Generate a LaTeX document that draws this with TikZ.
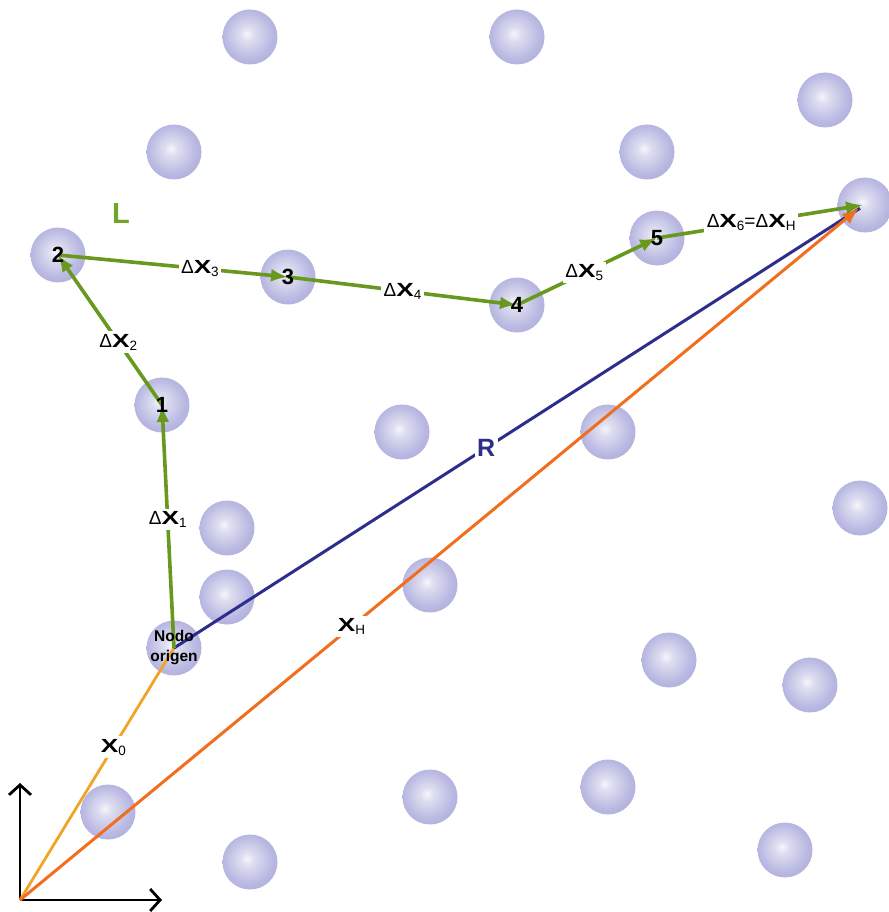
\documentclass[tikz,border=0pt]{standalone}
\usepackage{fontspec}
\setmainfont{Liberation Sans}
\usepackage{graphicx}
\usetikzlibrary{arrows.meta,calc}
\definecolor{gr}{RGB}{104,152,30}
\definecolor{lgr}{RGB}{112,165,40}
\definecolor{rblue}{RGB}{45,45,140}
\definecolor{xor}{RGB}{240,110,30}
\definecolor{xzero}{RGB}{240,165,40}
\definecolor{sph0}{RGB}{246,246,252}
\definecolor{sph1}{RGB}{222,222,240}
\definecolor{sphA}{RGB}{184,184,226}
\definecolor{sphB}{RGB}{158,158,208}
\definecolor{sphC}{RGB}{140,140,186}
\pgfdeclareradialshading{sphereshade}{\pgfpoint{-3bp}{3bp}}{color(0bp)=(sph0); color(6bp)=(sph1); color(22bp)=(sphA); color(42bp)=(sphB); color(50bp)=(sphC)}
\newcommand\wideX{\scalebox{1.38}[1]{\textbf{X}}}
\newcommand\dx[1]{{\fontsize{19}{21}\selectfont Δ\wideX\raisebox{-0.3ex}{\fontsize{13.5}{14}\selectfont #1}}}
\newcommand\xv[1]{{\fontsize{19}{21}\selectfont \wideX\raisebox{-0.3ex}{\fontsize{13.5}{14}\selectfont #1}}}
\tikzset{
  sphere/.style={circle, minimum size=55pt, inner sep=0pt, shading=sphereshade},
  num/.style={font=\fontsize{22}{24}\selectfont\bfseries, inner sep=0pt},
  garrow/.style={draw=gr, line width=3.6pt, -{Latex[length=17pt,width=13pt]}},
  lbl/.style={fill=white, inner sep=2.5pt, text=black},
  axis/.style={draw=black, line width=2.8pt, -{Straight Barb[length=10pt,width=22pt,line width=2.8pt]}},
}
\begin{document}
\begin{tikzpicture}[x=1pt,y=-1pt]
\useasboundingbox (0,0) rectangle (888,912);
% spheres
\node[sphere] (s1) at (250,37) {};
\node[sphere] (s2) at (517,37) {};
\node[sphere] (s3) at (825,100) {};
\node[sphere] (s4) at (174,152) {};
\node[sphere] (s5) at (647,152) {};
\node[sphere] (sH) at (865,205) {};
\node[sphere] (sN2) at (58,255) {};
\node[sphere] (sN3) at (288,277) {};
\node[sphere] (sN4) at (517,305) {};
\node[sphere] (sN5) at (657,238) {};
\node[sphere] (sN1) at (162,405) {};
\node[sphere] (s12) at (402,432) {};
\node[sphere] (s13) at (608,432) {};
\node[sphere] (s14) at (860,508) {};
\node[sphere] (s15) at (227,528) {};
\node[sphere] (s16) at (227,597) {};
\node[sphere] (s17) at (430,585) {};
\node[sphere] (sO) at (174,648) {};
\node[sphere] (s19) at (669,660) {};
\node[sphere] (s20) at (810,685) {};
\node[sphere] (s21) at (108,812) {};
\node[sphere] (s22) at (430,797) {};
\node[sphere] (s23) at (608,787) {};
\node[sphere] (s24) at (250,862) {};
\node[sphere] (s25) at (785,850) {};
% axes
\coordinate (O) at (20,900);
\coordinate (yend) at (20,783);
\coordinate (xend) at (162,900);
\draw[axis] (O) -- (yend);
\draw[axis] (O) -- (xend);
% position vectors
\draw[draw=xzero, line width=2.8pt] (O) -- node[lbl, pos=0.607] {\xv{0}} (sO.center);
\draw[draw=rblue, line width=3pt] (sO.center) -- node[lbl, pos=0.455, text=rblue, font=\fontsize{25}{27}\selectfont\bfseries] {R} ($(sH.center)!6pt!(sO.center)$);
\draw[draw=xor, line width=3pt, -{Latex[length=17pt,width=13pt]}] (O) -- node[lbl, pos=0.395] {\xv{H}} ($(sH.center)+(-6,3)$);
% path L
\draw[garrow] (sO.center) -- node[lbl, pos=0.527] {\dx{1}} (sN1.center);
\draw[garrow] (sN1.center) -- node[lbl, pos=0.42] {\dx{2}} (sN2.center);
\draw[garrow] (sN2.center) -- node[lbl, pos=0.617] {\dx{3}} (sN3.center);
\draw[garrow] (sN3.center) -- node[lbl, pos=0.50] {\dx{4}} (sN4.center);
\draw[garrow] (sN4.center) -- node[lbl, pos=0.48] {\dx{5}} (sN5.center);
\draw[garrow] (sN5.center) -- node[lbl, pos=0.457] {\dx{6}{\fontsize{19}{21}\selectfont =}\dx{H}} ($(sH.center)+(-2,0)$);
% labels on nodes
\node[num] (t1) at (sN1) {1};
\node[num] (t2) at (sN2) {2};
\node[num] (t3) at (sN3) {3};
\node[num] (t4) at (sN4) {4};
\node[num] (t5) at (sN5) {5};
\node[align=center, font=\fontsize{15.5}{20}\selectfont\bfseries, inner sep=0pt] (tO) at (sO) {Nodo\\origen};
\node[text=lgr, font=\fontsize{29}{30}\selectfont\bfseries] (L) at (121,214) {L};
\end{tikzpicture}
\end{document}
